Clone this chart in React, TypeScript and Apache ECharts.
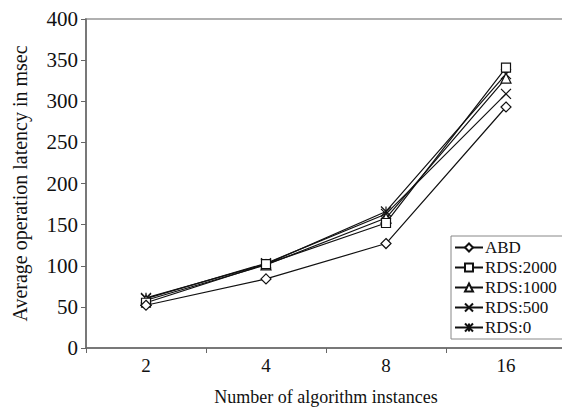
import React, { useEffect, useRef } from "react";
import * as echarts from "echarts";

const categories = ["2", "4", "8", "16"];
const yTicks = { min: 0, max: 400, interval: 50 };
const seriesNames = ["ABD", "RDS:2000", "RDS:1000", "RDS:500", "RDS:0"];
const abd = [52, 84, 127, 293];
const rds2000 = [55, 102, 152, 341];
const rds1000 = [58, 101, 158, 328];
const rds500 = [60, 103, 163, 309];
const rds0 = [61, 102, 166, 333];

const symbols = [
  "diamond",
  "rect",
  "triangle",
  "path://M0,0L10,10M10,0L0,10",
  "path://M0,0L10,10M10,0L0,10M5,0L5,10",
];
const allData = [abd, rds2000, rds1000, rds500, rds0];

const FONT = "'Liberation Serif', 'Times New Roman', serif";

export default function App() {
  const ref = useRef<HTMLDivElement>(null);
  useEffect(() => {
    if (!ref.current) return;
    const chart = echarts.init(ref.current, null, { renderer: "svg" });
    chart.setOption({
      animation: false,
      backgroundColor: "#fff",
      textStyle: { fontFamily: FONT, color: "#111" },
      grid: {
        left: 86,
        top: 19,
        right: -4,
        bottom: 60,
        containLabel: false,
        outerBoundsMode: "none",
        show: true,
        borderColor: "#b0b0b0",
        borderWidth: 2,
      },
      legend: {
        orient: "vertical",
        left: 451,
        top: 236,
        padding: [3, 6, 3, 3],
        itemGap: 3,
        itemWidth: 28,
        itemHeight: 10,
        borderColor: "#888",
        borderWidth: 1,
        backgroundColor: "#fff",
        textStyle: { fontFamily: FONT, fontSize: 17, color: "#111", padding: [0, 0, 0, -3] },
        data: seriesNames,
      },
      xAxis: {
        type: "category",
        data: categories,
        boundaryGap: true,
        name: "Number of algorithm instances",
        nameLocation: "middle",
        nameGap: 40,
        nameTextStyle: { fontFamily: FONT, fontSize: 18, color: "#111" },
        axisLine: { lineStyle: { color: "#666", width: 1.5 } },
        axisTick: { show: true, length: 5, lineStyle: { color: "#666" } },
        axisLabel: { fontFamily: FONT, fontSize: 19, color: "#111", margin: 8 },
        splitLine: { show: false },
      },
      yAxis: {
        type: "value",
        min: yTicks.min,
        max: yTicks.max,
        interval: yTicks.interval,
        name: "Average operation latency in msec",
        nameLocation: "middle",
        nameGap: 56,
        nameTextStyle: { fontFamily: FONT, fontSize: 20, color: "#111" },
        axisLine: { show: true, lineStyle: { color: "#666", width: 1.5 } },
        axisTick: { show: true, length: 5, lineStyle: { color: "#666" } },
        axisLabel: { fontFamily: FONT, fontSize: 21, color: "#111", margin: 8 },
        splitLine: { show: false },
      },
      series: seriesNames.map((name, i) => ({
        name,
        type: "line",
        data: allData[i],
        symbol: symbols[i],
        symbolSize: i === 1 ? 9 : 10,
        showSymbol: true,
        z: 10 - i,
        lineStyle: { color: "#111", width: 1.2 },
        itemStyle: { color: "#fff", borderColor: "#111", borderWidth: 1.2 },
      })),
    });
    return () => chart.dispose();
  }, []);
  return <div ref={ref} style={{ width: 562, height: 408, position: "absolute", left: 0, top: 0 }} />;
}
